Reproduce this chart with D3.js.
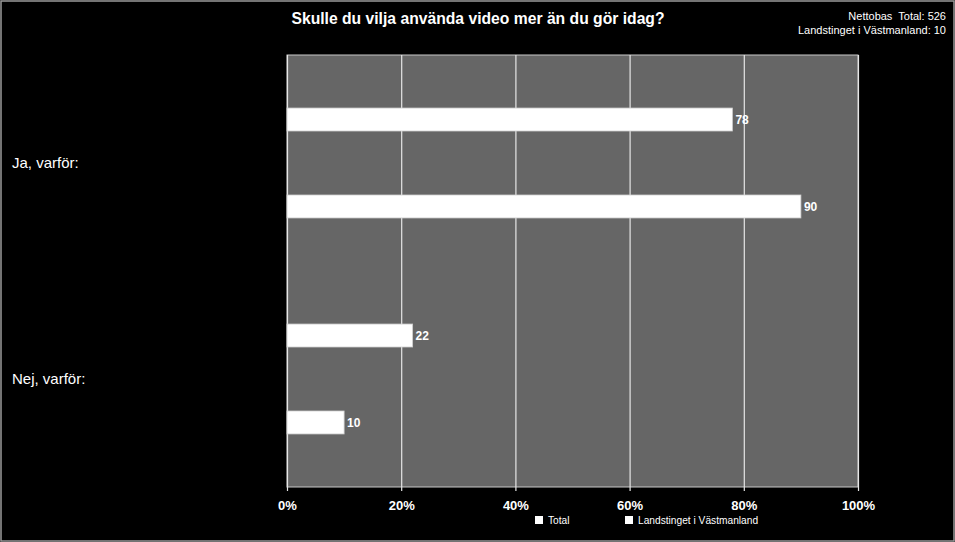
<!DOCTYPE html>
<html>
<head>
<meta charset="utf-8">
<script src="https://cdn.jsdelivr.net/npm/d3@7/dist/d3.min.js"></script>
<style>
  html, body { margin: 0; padding: 0; background: #000; }
  svg { display: block; font-family: "Liberation Sans", Arial, sans-serif; }
</style>
</head>
<body>
<svg id="chart" width="955" height="542"></svg>
<script>
  var categories = ['Ja, varför:', 'Nej, varför:'];
  var seriesNames = ['Total', 'Landstinget i Västmanland'];
  var totalValues = [78, 22];
  var landstingValues = [90, 10];
  var tickValues = [0, 20, 40, 60, 80, 100];
  var titleText = 'Skulle du vilja använda video mer än du gör idag?';
  var baseLines = ['Nettobas  Total: 526', 'Landstinget i Västmanland: 10'];

  var width = 955, height = 542;
  var margin = { top: 55, right: 97, bottom: 55, left: 287 };
  var innerW = width - margin.left - margin.right;
  var innerH = height - margin.top - margin.bottom;

  var data = categories.map(function(c, i) {
    return { category: c, values: [
      { name: seriesNames[0], value: totalValues[i] },
      { name: seriesNames[1], value: landstingValues[i] }
    ] };
  });

  var svg = d3.select('#chart');

  // outer frame
  svg.append('rect').attr('x', 1).attr('y', 1).attr('width', width - 2).attr('height', height - 2)
    .attr('fill', '#000').attr('stroke', '#9a9a9a').attr('stroke-width', 1.5);

  var x = d3.scaleLinear().domain([0, 100]).range([0, innerW]);
  var y0 = d3.scaleBand().domain(categories).range([0, innerH]).padding(0);
  var y1 = d3.scaleBand().domain(seriesNames).range([0, y0.bandwidth()])
    .paddingInner(0.736).paddingOuter(0.61);

  var g = svg.append('g').attr('transform', 'translate(' + margin.left + ',' + margin.top + ')');

  g.append('rect').attr('width', innerW).attr('height', innerH)
    .attr('fill', '#666666').attr('stroke', '#c8c8c8').attr('stroke-width', 1);

  // gridlines + ticks
  var xAxis = d3.axisBottom(x).tickValues(tickValues).tickSize(-innerH)
    .tickFormat(function(d) { return d + '%'; });
  var ax = g.append('g').attr('transform', 'translate(0,' + innerH + ')').call(xAxis);
  ax.select('.domain').remove();
  ax.selectAll('.tick line').attr('stroke', '#e6e6e6').attr('stroke-width', 1.2)
    .attr('y1', 4);
  ax.selectAll('.tick text').attr('fill', '#fff').attr('font-size', '13px')
    .attr('font-weight', 'bold').attr('y', 0).attr('dy', '23px')
    .attr('font-family', '"Liberation Sans", Arial, sans-serif');

  // bars
  var groups = g.selectAll('.cat').data(data).enter().append('g')
    .attr('class', 'cat')
    .attr('transform', function(d) { return 'translate(0,' + y0(d.category) + ')'; });

  groups.selectAll('rect').data(function(d) { return d.values; }).enter().append('rect')
    .attr('x', 0)
    .attr('y', function(d) { return y1(d.name); })
    .attr('width', function(d) { return x(d.value); })
    .attr('height', y1.bandwidth())
    .attr('fill', '#fff').attr('stroke', '#d0d0d0').attr('stroke-width', 0.8);

  groups.selectAll('.lbl').data(function(d) { return d.values; }).enter().append('text')
    .attr('class', 'lbl')
    .attr('x', function(d) { return x(d.value) + 3; })
    .attr('y', function(d) { return y1(d.name) + y1.bandwidth() / 2; })
    .attr('dy', '0.36em')
    .attr('fill', '#fff').attr('font-size', '12px').attr('font-weight', 'bold')
    .text(function(d) { return d.value; });

  // category labels
  svg.selectAll('.catlbl').data(categories).enter().append('text')
    .attr('class', 'catlbl')
    .attr('x', 12)
    .attr('y', function(d) { return margin.top + y0(d) + y0.bandwidth() / 2; })
    .attr('dy', '0.35em')
    .attr('fill', '#fff').attr('font-size', '15px')
    .text(function(d) { return d; });

  // title
  svg.append('text').attr('x', 478).attr('y', 24).attr('text-anchor', 'middle')
    .attr('fill', '#fff').attr('font-size', '15.7px').attr('font-weight', 'bold')
    .text(titleText);

  svg.selectAll('.base').data(baseLines).enter().append('text')
    .attr('class', 'base')
    .attr('x', 946).attr('y', function(d, i) { return 20 + i * 14; })
    .attr('text-anchor', 'end').attr('fill', '#fff').attr('font-size', '11px')
    .style('white-space', 'pre')
    .text(function(d) { return d; });

  // legend
  var legendX = [535, 625];
  var legend = svg.selectAll('.leg').data(seriesNames).enter().append('g')
    .attr('class', 'leg')
    .attr('transform', function(d, i) { return 'translate(' + legendX[i] + ',516)'; });
  legend.append('rect').attr('width', 8).attr('height', 8).attr('fill', '#fff');
  legend.append('text').attr('x', 13).attr('y', 8).attr('fill', '#fff')
    .attr('font-size', '10.2px').text(function(d) { return d; });
</script>
</body>
</html>
